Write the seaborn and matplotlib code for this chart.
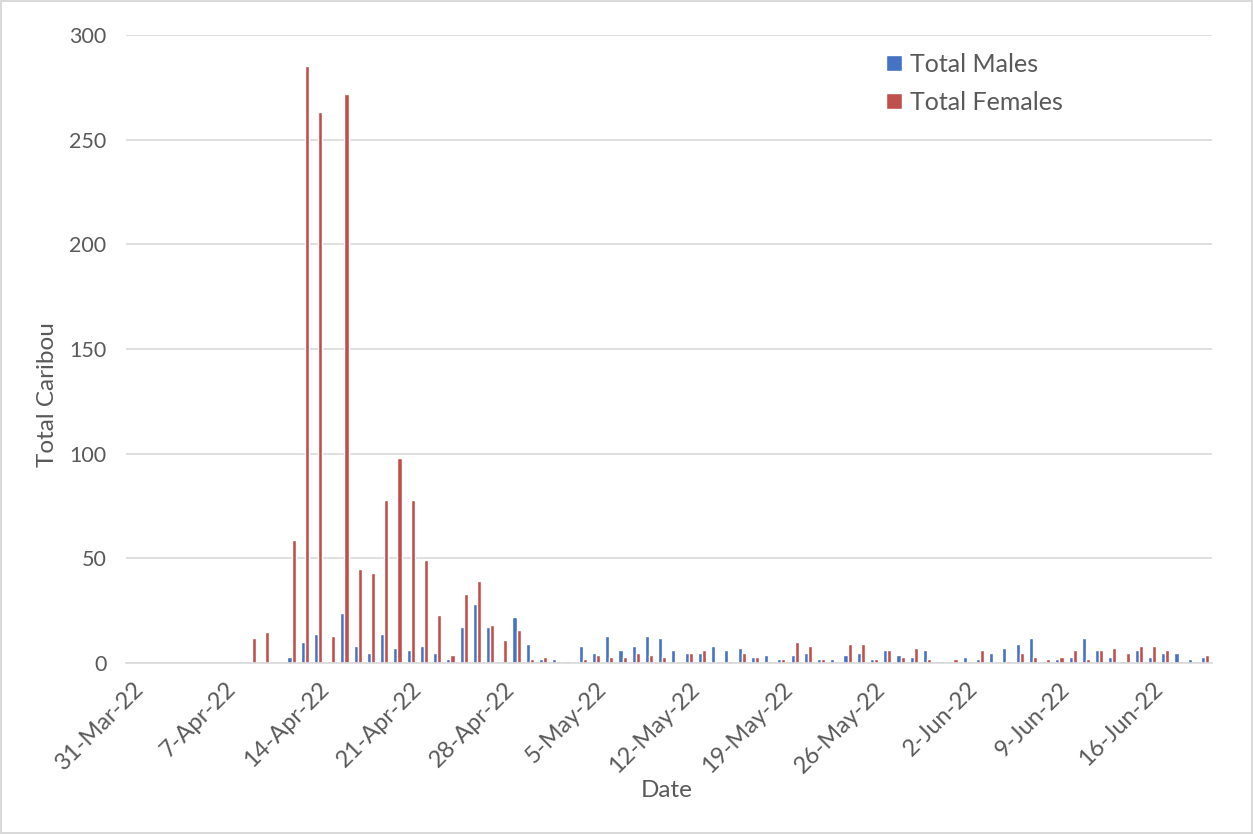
import pandas as pd
import matplotlib.pyplot as plt
import seaborn as sns

# daily counts, 31-Mar-22 through 20-Jun-22
dates = pd.date_range("2022-03-31", "2022-06-20", freq="D")

males = [0, 0, 0, 0, 0, 0, 0, 0, 0, 0,
         1, 0, 3, 10, 14, 1, 24, 8, 5, 14,
         7, 6, 8, 5, 2, 17, 28, 17, 0, 22,
         9, 2, 2, 1, 8, 5, 13, 6, 8, 13,
         12, 6, 5, 5, 8, 6, 7, 3, 4, 2,
         4, 5, 2, 2, 4, 5, 2, 6, 4, 3,
         6, 1, 1, 3, 2, 5, 7, 9, 12, 1,
         2, 3, 12, 6, 3, 1, 6, 3, 5, 5,
         2, 3]

females = [0, 0, 0, 0, 0, 0, 0, 0, 0, 12,
           15, 0, 59, 285, 263, 13, 272, 45, 43, 78,
           98, 78, 49, 23, 4, 33, 39, 18, 11, 16,
           2, 3, 1, 0, 2, 4, 3, 3, 5, 4,
           3, 0, 5, 6, 0, 1, 5, 3, 1, 2,
           10, 8, 2, 0, 9, 9, 2, 6, 3, 7,
           2, 1, 2, 1, 6, 0, 1, 5, 3, 2,
           3, 6, 2, 6, 7, 5, 8, 8, 6, 1,
           0, 4]

series_names = ["Total Males", "Total Females"]
colors = ["#4472C4", "#C0504D"]

labels = [f"{d.day}-{d.strftime('%b-%y')}" for d in dates]
df = pd.DataFrame({
    "Date": labels * 2,
    "Count": males + females,
    "Series": [series_names[0]] * len(dates) + [series_names[1]] * len(dates),
})

sns.set_style("white")
plt.rcParams["font.family"] = ["Lato", "DejaVu Sans"]
text_col = "#595959"

fig = plt.figure(figsize=(12.53, 8.34), dpi=100, linewidth=1.5, edgecolor="#d9d9d9")
ax = fig.add_axes([0.1006, 0.205, 0.8664, 0.753])

sns.barplot(data=df, x="Date", y="Count", hue="Series", palette=colors,
            width=0.62, saturation=1, ax=ax, legend=True)

ax.set_xlim(-0.5, len(dates) - 0.5)
ax.set_ylim(0, 300)
ax.set_yticks(range(0, 301, 50))
ax.yaxis.grid(True, color="#d9d9d9", linewidth=1.2)
ax.set_axisbelow(True)

tick_pos = list(range(0, len(dates), 7))
ax.set_xticks(tick_pos)
ax.set_xticklabels([labels[i] for i in tick_pos], rotation=45, ha="right",
                   rotation_mode="anchor", fontsize=17, color=text_col)
ax.tick_params(axis="y", labelsize=15.5, labelcolor=text_col, length=0, pad=14)
ax.tick_params(axis="x", length=0, pad=11)

for s in ["top", "right", "left"]:
    ax.spines[s].set_visible(False)
ax.spines["bottom"].set_color("#d9d9d9")
ax.spines["bottom"].set_linewidth(1.2)

ax.set_xlabel("Date", fontsize=17.5, color=text_col)
ax.set_ylabel("Total Caribou", fontsize=17.5, color=text_col)
ax.xaxis.set_label_coords(0.498, -0.186)
ax.yaxis.set_label_coords(-0.063, 0.427)

ax.legend(loc="upper left", bbox_to_anchor=(0.70, 0.972), frameon=False,
          borderpad=0, borderaxespad=0,
          fontsize=18, handlelength=0.64, handleheight=0.64, handletextpad=0.32,
          labelspacing=0.6, labelcolor=text_col)

fig.savefig("out.png", dpi=100)
